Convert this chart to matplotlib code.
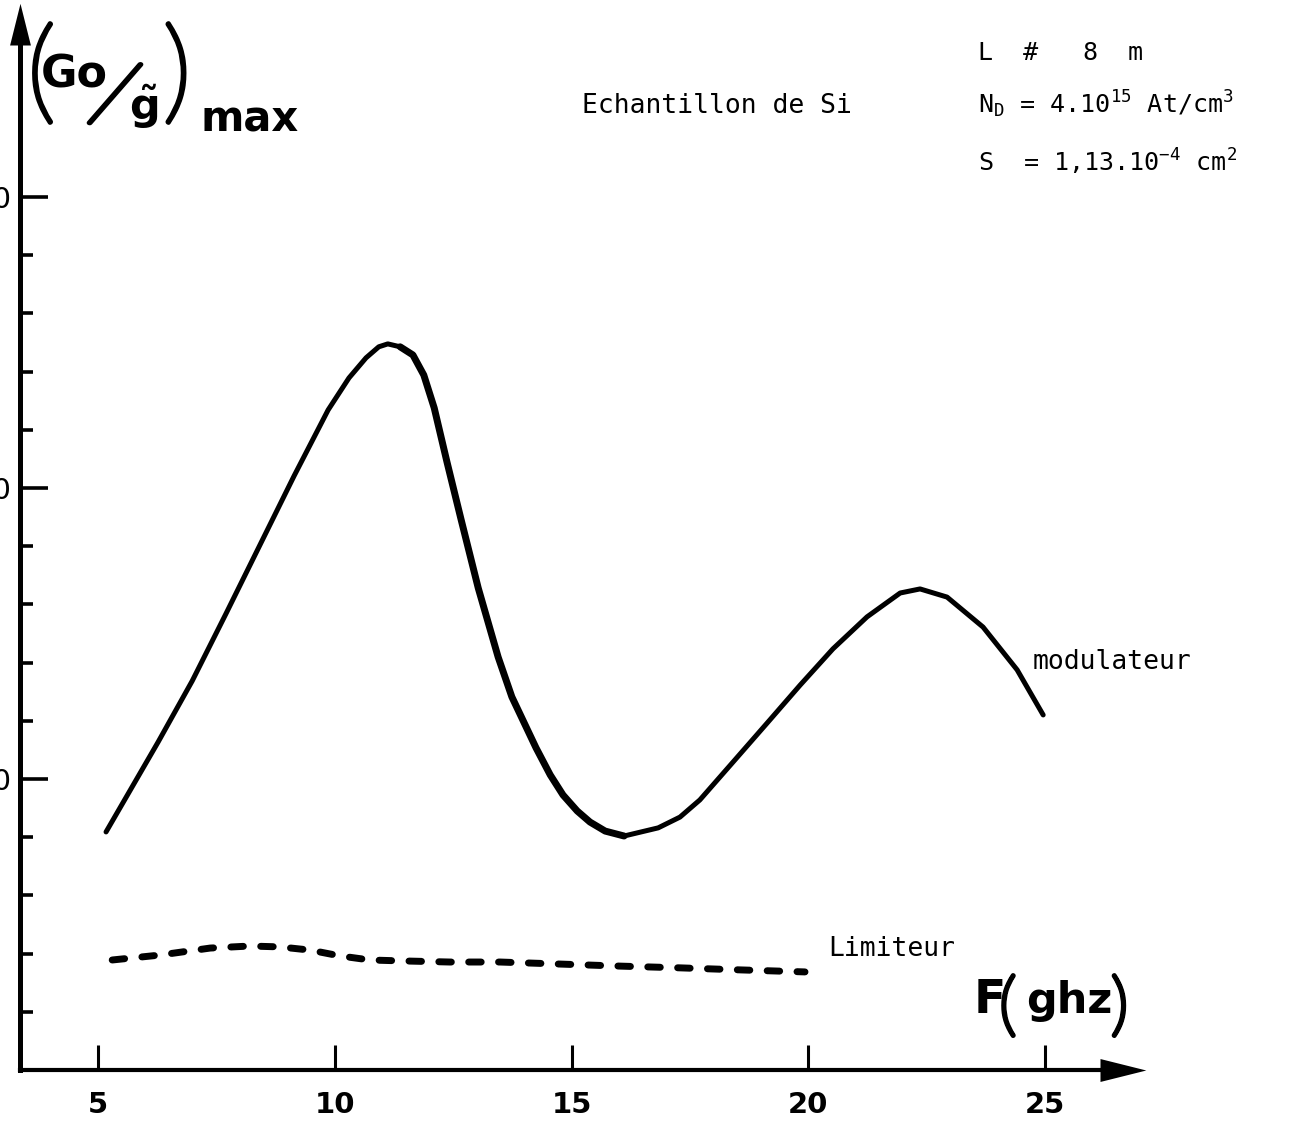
import numpy as np
import matplotlib
matplotlib.use('Agg')
import matplotlib.pyplot as plt
import matplotlib.patheffects as pe
from matplotlib.ticker import FixedLocator

# (Go/g~)max en fonction de F (GHz) - echantillon de Si
freq_mod = [5.17, 6.27, 6.99, 7.70, 8.42, 9.14, 9.86, 10.30, 10.66, 10.93,
            11.12, 11.38, 11.65, 11.88, 12.10, 12.37, 12.67, 13.03, 13.45,
            13.74, 14.25, 14.55, 14.82, 15.12, 15.39, 15.71, 16.11, 16.83,
            17.29, 17.71, 18.41, 19.13, 19.83, 20.52, 21.24, 21.94, 22.36,
            22.93, 23.69, 24.41, 24.96]
gain_mod = [8.18, 11.27, 13.37, 15.67, 18.04, 20.41, 22.68, 23.78, 24.47,
            24.85, 24.95, 24.85, 24.57, 23.88, 22.75, 20.89, 18.90, 16.56,
            14.19, 12.82, 11.07, 10.14, 9.45, 8.90, 8.52, 8.21, 8.04, 8.32,
            8.69, 9.28, 10.58, 11.92, 13.23, 14.47, 15.57, 16.39, 16.53,
            16.25, 15.22, 13.75, 12.20]

freq_lim = [5.30, 6.31, 7.37, 8.21, 8.84, 9.48, 10.11, 10.74, 11.38, 12.43,
            13.49, 14.76, 16.02, 17.29, 18.56, 19.93]
gain_lim = [3.78, 3.95, 4.19, 4.26, 4.23, 4.12, 3.92, 3.78, 3.75, 3.71,
            3.71, 3.64, 3.57, 3.51, 3.44, 3.37]

x_ticks = [5, 10, 15, 20, 25]
x_labels = ['5', '10', '15', '20', '25']
y_major = [10, 20, 30]
y_labels = ['10', '20', '30']
y_minor = [2, 4, 6, 8, 12, 14, 16, 18, 22, 24, 26, 28]

W, H = 1299, 1129


def px(x, y):
    # pixel position -> figure fraction
    return x / W, 1 - y / H


plt.rcParams['mathtext.fontset'] = 'custom'
plt.rcParams['mathtext.rm'] = 'DejaVu Sans Mono'
plt.rcParams['mathtext.bf'] = 'DejaVu Sans:bold'

fig = plt.figure(figsize=(W / 100, H / 100), dpi=100)
fig.patch.set_facecolor('white')
ax = fig.add_axes([20 / W, 1 - 1070 / H, (1100 - 20) / W, (1070 - 45) / H])
ax.set_xlim(3.353, 26.16)
ax.set_ylim(0, 35.22)

# axes: only left and bottom, ending in arrow heads
for s in ['top', 'right']:
    ax.spines[s].set_visible(False)
ax.spines['left'].set_linewidth(3.6)
ax.spines['bottom'].set_linewidth(3.0)
ax.plot([0], [1], transform=ax.transAxes, clip_on=False, color='black',
        marker=[(-0.5, 0), (0.5, 0), (0, 2), (-0.5, 0)], ms=60, mew=0)
ax.plot([1], [0], transform=ax.transAxes, clip_on=False, color='black',
        marker=[(0, -0.5), (0, 0.5), (2, 0), (0, -0.5)], ms=66, mew=0)

ax.set_xticks(x_ticks)
ax.set_xticklabels(x_labels, fontsize=21, fontweight='bold')
ax.tick_params(axis='x', direction='in', length=18, width=2.2, pad=15)

ax.yaxis.set_major_locator(FixedLocator(y_major))
ax.yaxis.set_minor_locator(FixedLocator(y_minor))
ax.set_yticklabels(y_labels, fontsize=21)
ax.tick_params(axis='y', which='major', direction='in', length=20, width=2.6, pad=6)
ax.tick_params(axis='y', which='minor', direction='in', length=9, width=2.6)

# modulateur (trait plein, plus epais sur la descente)
ax.plot(freq_mod, gain_mod, color='black', lw=3.6,
        solid_capstyle='round', solid_joinstyle='round')
ax.plot(freq_mod[11:27], gain_mod[11:27], color='black', lw=5.0,
        solid_capstyle='round', solid_joinstyle='round')

# limiteur (tirets)
ax.plot(freq_lim, gain_lim, color='black', lw=5.0, dashes=(1.8, 2.5),
        dash_capstyle='round')

mono = 'DejaVu Sans Mono'
fig.text(*px(1033, 662), 'modulateur', family=mono, fontsize=19, va='center')
fig.text(*px(828, 949), 'Limiteur', family=mono, fontsize=19, va='center')
fig.text(*px(582, 113), 'Echantillon de Si', family=mono, fontsize=19, va='baseline')

fig.text(*px(978, 60), 'L  #   8  m', family=mono, fontsize=18, va='baseline')
fig.text(*px(978, 113), r'N$_{\mathrm{D}}$ = 4.10$^{15}$ At/cm$^{3}$',
         family=mono, fontsize=18, va='baseline')
fig.text(*px(978, 172), r'S  = 1,13.10$^{-4}$ cm$^{2}$',
         family=mono, fontsize=18, va='baseline')

# fine glyphs thickened with a stroke (parentheses, slash)
thin = dict(family='Lato', fontweight='light', ha='left', va='center',
            path_effects=[pe.withStroke(linewidth=3.2, foreground='black')])

# titre de l'axe vertical : (Go/g~)max
fig.text(*px(27, 78), '(', fontsize=82, **thin)
fig.text(*px(41, 88), 'Go', fontsize=32, fontweight='bold', va='baseline')
fig.text(*px(113, 100), '/', fontsize=68, rotation=-18,
         **{**thin, 'ha': 'center'})
fig.text(*px(129, 120), r'$\tilde{\mathbf{g}}$', fontsize=31, va='baseline')
fig.text(*px(163, 78), ')', fontsize=82, **thin)
fig.text(*px(200, 132), 'max', fontsize=30, fontweight='bold', va='baseline')

# titre de l'axe horizontal : F(ghz)
fig.text(*px(974, 1013), 'F', fontsize=34, fontweight='bold', va='baseline')
fig.text(*px(999, 1009), '(', fontsize=50, **thin)
fig.text(*px(1026, 1013), 'ghz', fontsize=31, fontweight='bold', va='baseline')
fig.text(*px(1111, 1009), ')', fontsize=50, **thin)

fig.savefig('out.png', dpi=100, facecolor='white')
